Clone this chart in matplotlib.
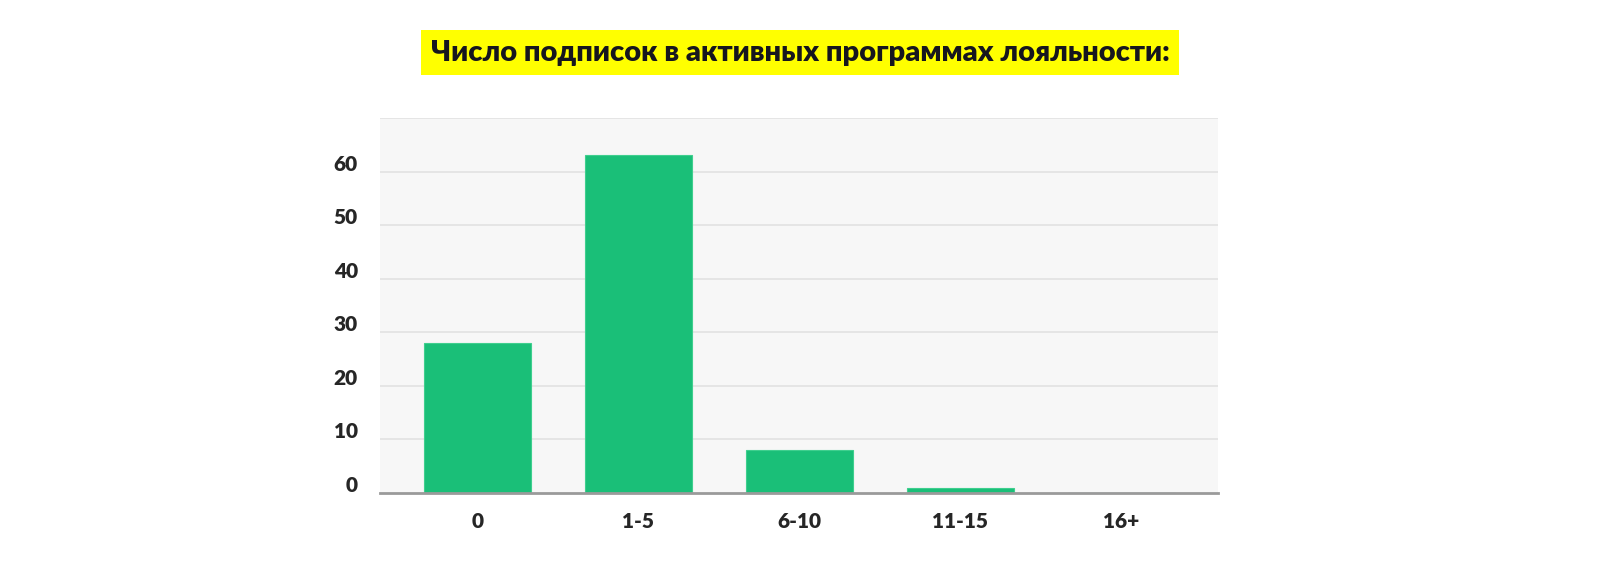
import matplotlib.pyplot as plt
import matplotlib.transforms as mtransforms
import numpy as np

# Data
categories = ['0', '1-5', '6-10', '11-15', '16+']
counts = [28, 63, 8, 1, 0]
y_ticks = [0, 10, 20, 30, 40, 50, 60]

title_text = 'Число подписок в активных программах лояльности:'

plt.rcParams['font.family'] = ['Lato', 'Open Sans', 'DejaVu Sans']

fig = plt.figure(figsize=(16, 5.86), dpi=100)
ax = fig.add_axes([0.2375, 0.1587, 0.5237, 0.64])

x = np.arange(len(categories))
ax.bar(x, counts, width=0.665, color='#1abf78', edgecolor='#3fcf8e', linewidth=0.8, zorder=3)

ax.set_facecolor('#f7f7f7')
ax.set_xlim(-0.606, len(categories) - 1 + 0.6)
ax.set_ylim(0, 70)
ax.set_yticks(y_ticks)
ax.set_xticks(x)
ax.set_xticklabels(categories)

# Horizontal grid lines, including the top edge at 70
for yv in y_ticks[1:] + [70]:
    ax.axhline(yv, color='#e2e2e2', linewidth=1.2, zorder=1)

for side in ['top', 'right', 'left']:
    ax.spines[side].set_visible(False)
ax.spines['bottom'].set_color('#9a9a9a')
ax.spines['bottom'].set_linewidth(2)
ax.spines['bottom'].set_zorder(4)

ax.tick_params(axis='both', length=0, labelsize=15, labelcolor='#262626')
ax.tick_params(axis='y', pad=16)
ax.tick_params(axis='x', pad=14)
for lbl in ax.get_xticklabels() + ax.get_yticklabels():
    lbl.set_fontweight('heavy')

# y labels sit slightly above their grid lines
shift = mtransforms.ScaledTranslation(0, 9 / 100, fig.dpi_scale_trans)
for lbl in ax.get_yticklabels():
    lbl.set_transform(lbl.get_transform() + shift)

fig.text(0.5, 0.91, title_text, ha='center', va='center', fontsize=21,
         fontweight='heavy', color='#16161e',
         bbox=dict(boxstyle='square,pad=0.33', facecolor='#ffff00', edgecolor='none'))

fig.savefig('out.png', dpi=100, facecolor='white')
plt.close(fig)
